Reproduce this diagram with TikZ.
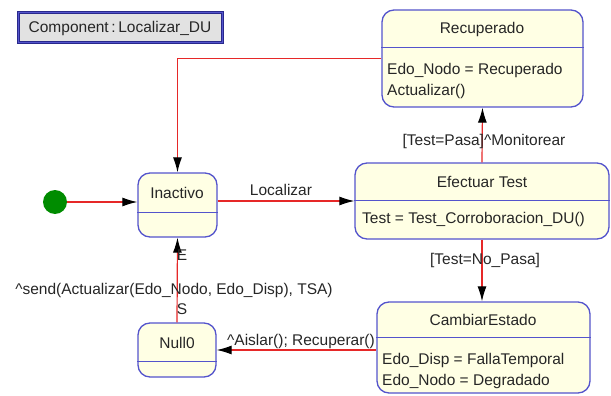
\documentclass[tikz,border=0pt]{standalone}
\usepackage{fontspec}
\setmainfont{Liberation Sans}
\usetikzlibrary{arrows.meta,positioning}

\definecolor{statefill}{RGB}{255,255,228}
\definecolor{stateline}{RGB}{84,84,204}
\definecolor{wire}{RGB}{230,40,40}
\definecolor{titlefill}{RGB}{226,226,226}
\definecolor{titleline}{RGB}{40,40,140}
\definecolor{startdot}{RGB}{0,140,0}

\begin{document}
\begin{tikzpicture}[x=1pt, y=-1pt,
  every node/.style={font=\fontsize{15.5}{21}\selectfont, text=black!85},
  state/.style={draw=stateline, fill=statefill, rounded corners=12pt, line width=1.3pt, inner sep=0pt},
  body/.style={anchor=west, align=left, inner sep=2pt},
  trans/.style={draw=wire, line width=1.2pt, -{Latex[black,fill=black,length=15pt,width=9pt]}}]
  \useasboundingbox (0,0) rectangle (611,396);

  \node (title) at (120,28) [draw=titleline, line width=1pt, double=stateline, double distance=1pt, fill=titlefill, minimum width=204pt, minimum height=30pt, inner sep=0pt] {Component\,:\,Localizar\_DU};

  % states
  \node (recuperado) at (482.5,58.5) [state, minimum width=201pt, minimum height=97pt] {};
  \node (inactivo) at (177.5,205) [state, minimum width=79pt, minimum height=64pt] {};
  \node (efectuar) at (482,201) [state, minimum width=254pt, minimum height=76pt] {};
  \node (cambiar) at (483.5,347.5) [state, minimum width=213pt, minimum height=91pt] {};
  \node (null0) at (177,350) [state, minimum width=78pt, minimum height=54pt] {};
  \foreach \s/\h in {recuperado/38, inactivo/40, efectuar/38, cambiar/36, null0/39}
    \draw[stateline, line width=1.3pt] ([yshift=-\h pt]\s.north west) -- ([yshift=-\h pt]\s.north east);

  \node (recuperado-name) at (482,29) {Recuperado};
  \node (recuperado-body) at (385,81) [body] {Edo\_Nodo = Recuperado\\Actualizar()};
  \node (inactivo-name) at (177,193) {Inactivo};
  \node (efectuar-name) at (482,182) {Efectuar Test};
  \node (efectuar-body) at (360,219) [body] {Test = Test\_Corroboracion\_DU()};
  \node (cambiar-name) at (483,320) {CambiarEstado};
  \node (cambiar-body) at (380,370.5) [body] {Edo\_Disp = FallaTemporal\\Edo\_Nodo = Degradado};
  \node (null0-name) at (177,343) {Null0};

  \node (inicio) at (55,202) [circle, fill=startdot, minimum size=24pt, inner sep=0pt] {};

  % transitions
  \draw[trans] (inicio) -- (inicio -| inactivo.west);
  \draw[trans] (inactivo.east |- efectuar.west) -- (efectuar.west);
  \draw[trans] (recuperado.west) -| (inactivo.north);
  \draw[trans] (efectuar.north) -- (recuperado.south);
  \draw[trans] (efectuar.south) -- (efectuar.south |- cambiar.north);
  \draw[trans] (cambiar.west |- null0.east) -- (null0.east);
  \draw[trans] (null0.north) -- (inactivo.south);

  \node (localizar) at (281,190) {Localizar};
  \node (pasa) at (484,141) {[Test=Pasa]\textasciicircum Monitorear};
  \node (nopasa) at (485,260) {[Test=No\_Pasa]};
  \node (aislar) at (301,341) {\textasciicircum Aislar(); Recuperar()};
  \node (send) at (174,290) {\textasciicircum send(Actualizar(Edo\_Nodo, Edo\_Disp), TSA)};
  \node (e) at (182,255) {E};
  \node (s) at (182,309) {S};
\end{tikzpicture}
\end{document}
